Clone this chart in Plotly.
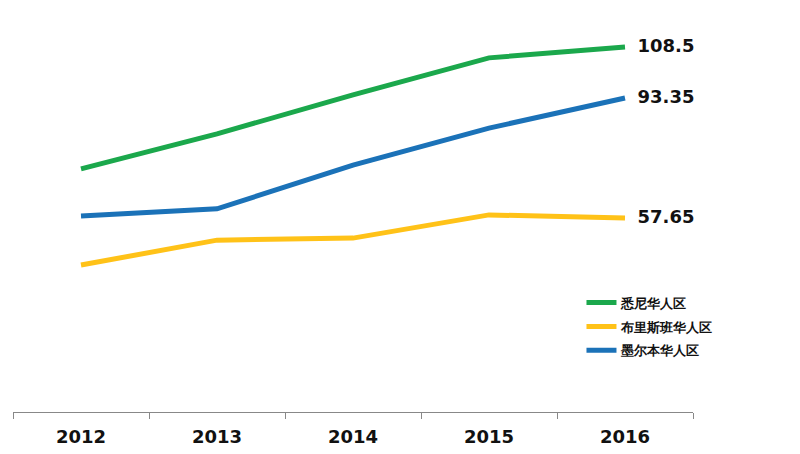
import plotly.graph_objects as go

years = ["2012", "2013", "2014", "2015", "2016"]
sydney = [72.3, 82.7, 94.3, 105.3, 108.5]
brisbane = [43.7, 51.1, 51.7, 58.6, 57.65]
melbourne = [58.3, 60.4, 73.4, 84.4, 93.35]
names = ["悉尼华人区", "布里斯班华人区", "墨尔本华人区"]
colors = ["#1ba84c", "#ffc218", "#1b72b8"]
series = [sydney, brisbane, melbourne]
end_labels = ["108.5", "57.65", "93.35"]

fig = go.Figure()
for i, (nm, vals, col) in enumerate(zip(names, series, colors)):
    fig.add_trace(go.Scatter(x=years, y=vals, mode="lines", name=nm,
                             line=dict(color=col, width=5), legendgroup=str(i)))
for i, vals in enumerate(series):
    fig.add_trace(go.Scatter(x=[years[-1]], y=[vals[-1]], mode="text",
                             text=["  " + end_labels[i]], textposition="middle right",
                             cliponaxis=False, showlegend=False, hoverinfo="skip",
                             textfont=dict(family="DejaVu Sans", size=18, color="#111111", weight="bold")))

fig.update_layout(
    width=800, height=454,
    margin=dict(l=13, r=107, t=0, b=42),
    plot_bgcolor="white", paper_bgcolor="white",
    showlegend=True,
    legend=dict(x=0.836, y=0.302, xanchor="left", yanchor="top",
                font=dict(family="DejaVu Sans", size=13, color="#111111", weight="bold"),
                traceorder="grouped", tracegroupgap=4, itemwidth=30,
                bgcolor="rgba(0,0,0,0)"),
    xaxis=dict(type="category", tickson="boundaries", ticks="outside", ticklen=6,
               tickcolor="#888888", showline=True, linecolor="#888888", linewidth=1,
               showgrid=False, range=[-0.5, 4.5], ticklabelstandoff=8,
               tickfont=dict(family="DejaVu Sans", size=18, color="#111111", weight="bold")),
    yaxis=dict(range=[0, 122.5], visible=False, showgrid=False, zeroline=False),
)
fig.write_html("out.html")
